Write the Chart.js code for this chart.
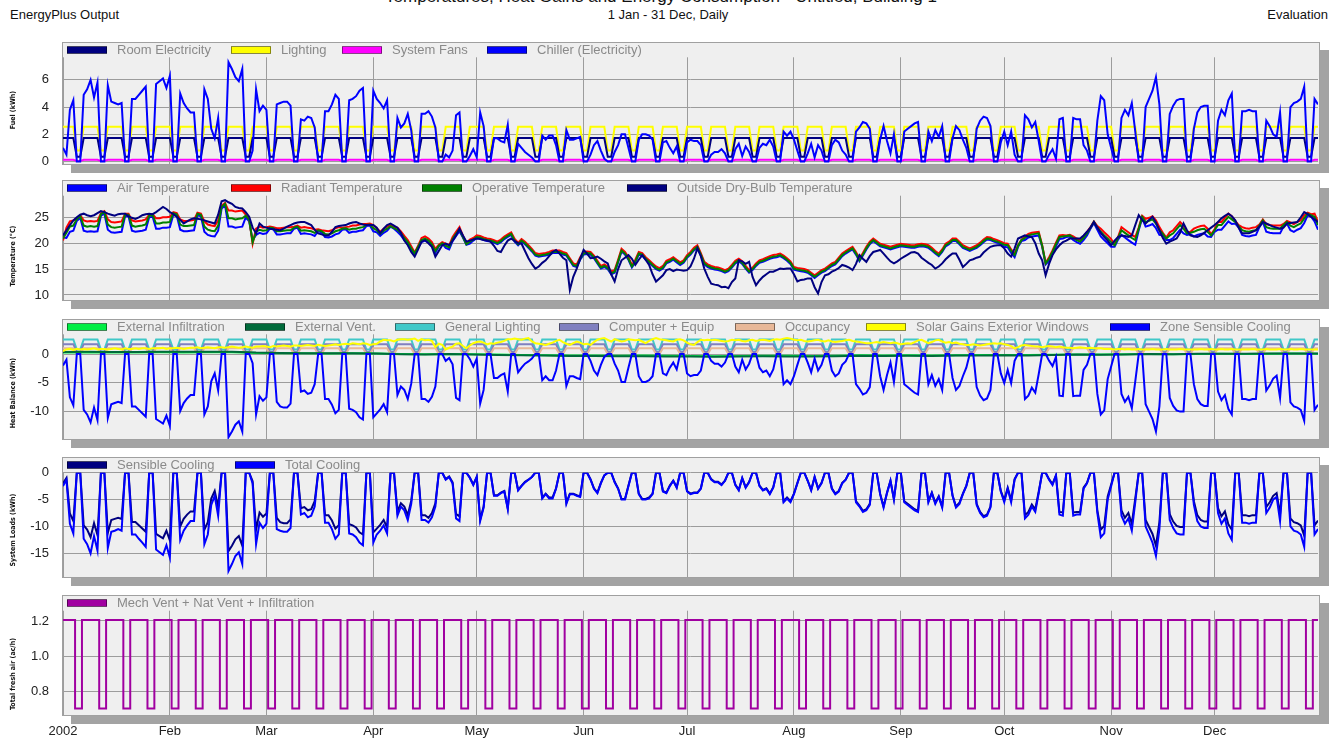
<!DOCTYPE html>
<html>
<head>
<meta charset="utf-8">
<script src="https://cdn.jsdelivr.net/npm/chart.js@4.4.0/dist/chart.umd.min.js"></script>
<style>
  body { margin: 0; width: 1344px; height: 740px; overflow: hidden; position: relative; background: #fff;
         font-family: Arial, "Liberation Sans", sans-serif; }
  canvas { position: absolute; left: 0; top: 0; }
  .hdr { position: absolute; font-size: 13px; line-height: 15px; color: #111; white-space: nowrap; }
</style>
</head>
<body>
<div class="hdr" style="left:0;width:1322px;top:-12px;text-align:center;font-size:17px;line-height:17px;">Temperatures, Heat Gains and Energy Consumption - Untitled, Building 1</div>
<div class="hdr" style="left:10px;top:7px;">EnergyPlus Output</div>
<div class="hdr" style="left:0;width:1336px;top:7px;text-align:center;">1 Jan - 31 Dec, Daily</div>
<div class="hdr" style="right:16px;top:7px;">Evaluation</div>
<script>
// ---- axis data ----
const monthStarts = [0, 31, 59, 90, 120, 151, 181, 212, 243, 273, 304, 334];
const monthLabels = ['2002', 'Feb', 'Mar', 'Apr', 'May', 'Jun', 'Jul', 'Aug', 'Sep', 'Oct', 'Nov', 'Dec'];
const fuelTicks = [0, 2, 4, 6];
const tempTicks = [10, 15, 20, 25];
const heatTicks = [0, -5, -10];
const loadTicks = [0, -5, -10, -15];
const airTicks = [0.8, 1.0, 1.2];

// 1 = working day, 0 = weekend (1 Jan 2002 is a Tuesday)
const workday =
  '1111001111100111110011111001' + '1111001111100111110011111001' + '1111001111100111110011111001' +
  '1111001111100111110011111001' + '1111001111100111110011111001' + '1111001111100111110011111001' +
  '1111001111100111110011111001' + '1111001111100111110011111001' + '1111001111100111110011111001' +
  '1111001111100111110011111001' + '1111001111100111110011111001' + '1111001111100111110011111001' +
  '1111001111100111110011111001' + '1';

// schedule levels (working day / weekend)
const roomElec = [1.72, 0.35];
const lighting = [2.55, 0.8];
const sysFans = [0.12, 0.04];
const genLighting = [2.55, 0.8];
const compEquip = [1.72, 0.35];
const occupancy = [1.0, 0.0];
const freshAir = [1.205, 0.705];

// daily values, one week (Tue..Mon) per group
const chiller = [
  1.0,0.5,3.8,4.5,0,0,4.9, 5.3,6.0,4.7,5.8,0,0,5.6, 4.4,4.3,4.2,4.3,0,0,4.6, 4.6,4.9,5.2,5.5,0,0,5.7,
  5.9,6.1,5.4,6.3,0,0,5.0, 4.3,3.9,3.6,3.6,0,0,5.3, 4.6,2.4,1.7,3.2,0,0,7.3, 6.8,6.2,5.9,6.8,0,0,0.8,
  5.3,3.7,4.1,3.8,0,0,4.2, 4.3,4.4,4.4,4.1,0,0,3.1, 3.0,3.3,3.2,2.5,0,0,3.7, 3.7,4.2,4.9,4.6,0,0,4.5,
  4.6,4.8,5.2,5.4,0,0,5.2, 4.6,4.3,3.9,4.5,0,0,3.2, 2.5,2.8,3.5,2.3,0,0,3.5, 3.5,3.7,3.3,2.5,0,0,0.5,
  0.3,0.8,3.4,3.6,0,0,0.4, 0.9,0.3,3.6,2.6,0,0,1.7, 1.7,1.5,1.4,2.7,0,0,1.3, 1.0,0.7,0.5,0.3,0,0,1.9,
  1.6,1.9,1.9,1.2,0,0,2.3, 1.6,1.6,1.7,1.8,0,0,0.5, 1.2,1.5,0.8,0.2,0,0,0.7, 1.2,2.0,2.0,1.0,0,0,1.6,
  2.0,2.0,1.9,1.6,0,0,1.4, 1.5,1.0,0.6,1.1,0,0,1.4, 1.6,1.5,1.5,1.2,0,0,0.5, 0.7,0.7,0.9,0.6,0,0,0.9,
  1.3,0.4,1.1,0.7,0,0,1.0, 1.3,1.2,1.6,1.1,0,0,2.2, 1.9,2.2,1.6,0.8,0,0,0.6, 1.3,0.3,1.2,0.8,0,0,1.2,
  1.6,1.4,0.8,0.5,0,0,2.2, 2.5,2.9,2.8,2.4,0,0,1.6, 2.6,1.5,0.6,2.0,0,0,2.2, 2.4,2.6,2.8,2.9,0,0,2.2,
  1.5,2.3,1.8,2.6,0,0,1.7, 2.6,2.3,1.6,1.0,0,0,2.4, 3.0,3.3,3.2,2.6,0,0,1.4, 2.2,1.2,2.2,0.5,0,0,3.4,
  3.1,2.5,2.9,1.5,0,0,0.5, 0.9,0.2,3.1,3.2,0,0,3.2, 3.1,3.1,1.2,0.8,0,0,3.0, 4.8,4.5,2.0,1.0,0,0,3.2,
  3.8,3.4,4.3,2.2,0,0,4.0, 4.6,5.2,6.2,4.2,0,0,3.5, 4.1,4.5,4.6,4.6,0,0,2.4, 3.6,4.0,4.1,4.1,0,0,3.0,
  3.8,3.4,4.5,5.0,0,0,3.7, 3.7,3.8,3.7,3.7,0,0,3.0, 2.6,2.0,1.8,3.6,0,0,4.0, 4.3,4.4,4.6,5.5,0,0,4.6,
  4.2
];

const airTemp = [
  21.1,21.0,22.2,22.4,24.3,24.9,22.4, 22.2,22.3,22.2,22.3,25.3,25.7,22.6, 22.1,22.0,22.1,22.2,25.2,25.2,22.4, 22.2,22.3,22.4,22.6,25.0,25.1,22.8,
  22.8,23.0,23.0,23.1,25.5,25.3,22.6, 22.3,22.3,22.4,22.5,25.4,25.2,22.2, 21.6,21.4,21.3,22.4,26.7,27.3,23.2, 23.2,23.0,23.1,23.2,25.0,24.2,20.6,
  21.6,22.0,21.8,21.9,22.8,22.7,21.7, 21.7,21.8,21.9,21.9,22.8,23.0,21.8, 21.9,21.8,21.7,21.4,22.3,22.1,21.2, 21.1,21.3,21.7,21.9,22.6,22.7,22.0,
  22.2,22.2,22.4,22.5,23.3,23.4,22.3, 22.1,21.4,22.0,22.4,23.2,22.8,22.2, 21.5,20.6,19.8,18.6,17.9,19.2,20.2, 20.5,20.1,19.4,18.1,19.4,19.9,19.1,
  18.8,20.4,21.4,22.3,21.1,19.7,19.9, 20.5,21.0,20.9,20.6,20.4,20.3,20.1, 19.8,20.2,20.8,21.2,21.6,20.3,19.6, 20.3,19.8,19.1,18.4,17.6,17.4,17.5,
  17.6,17.8,18.1,18.1,18.1,17.8,17.6, 16.6,15.6,15.4,16.8,17.8,17.9,17.8, 17.1,16.1,15.1,15.4,15.0,14.0,14.3, 16.3,18.4,17.8,16.8,15.3,16.3,17.8,
  17.6,16.8,16.2,15.6,15.0,14.7,15.1, 16.1,16.4,16.8,16.3,15.8,16.2,17.2, 17.8,18.6,19.1,17.6,15.9,15.4,15.1, 14.9,14.8,14.6,14.3,14.6,15.3,16.1,
  16.5,16.0,15.1,14.3,14.8,15.6,16.2, 16.4,16.7,17.0,17.2,17.3,17.5,17.1, 16.6,16.0,14.9,14.7,14.6,14.5,14.3, 13.8,13.3,13.8,14.3,14.6,15.1,15.6,
  15.9,16.7,17.5,18.0,18.4,18.8,17.8, 16.5,17.6,18.8,19.8,20.4,19.9,19.4, 19.2,19.0,18.8,19.0,19.2,19.4,19.3, 19.2,19.1,19.1,19.3,19.4,19.3,19.1,
  18.6,18.0,17.5,18.3,19.4,19.8,20.4, 20.4,19.8,19.1,18.8,18.5,18.8,19.1, 19.6,20.2,20.7,20.6,20.3,20.1,19.8, 19.3,19.2,18.1,17.3,19.3,20.4,20.6,
  21.1,21.3,21.4,21.5,19.3,15.9,16.6, 17.9,19.4,20.8,20.9,21.2,21.3,20.6, 20.2,19.9,20.6,21.5,22.8,23.9,22.6, 21.3,20.6,20.0,19.3,19.3,20.7,21.6,
  21.1,20.6,20.1,19.7,22.5,24.8,23.2, 23.4,23.7,22.9,21.6,21.5,20.6,20.6, 21.0,21.8,22.6,21.9,21.6,21.7,21.3, 21.6,21.8,21.9,21.3,21.2,22.2,22.6,
  22.6,23.4,24.2,23.7,23.8,23.0,21.6, 21.4,21.3,21.5,21.6,23.1,24.1,22.2, 22.0,21.9,21.9,21.9,23.2,23.8,22.5, 22.2,22.6,22.9,23.9,25.4,25.1,24.2,
  22.6
];

const radiantTemp = [
  20.5,23.0,24.2,24.4,24.8,25.4,24.4, 24.2,24.3,24.2,24.3,25.8,26.2,24.6, 24.1,24.0,24.1,24.2,25.7,25.7,24.4, 24.2,24.3,24.4,24.6,25.5,25.6,24.8,
  24.8,25.0,25.0,25.1,26.0,25.8,24.6, 24.3,24.3,24.4,24.5,25.9,25.7,24.2, 23.6,23.4,23.3,24.4,27.2,27.8,26.3, 26.3,26.1,26.2,26.3,25.5,24.7,19.9,
  22.8,23.2,23.0,23.1,23.2,23.1,22.9, 22.9,23.0,23.1,23.1,23.2,23.4,23.0, 23.1,23.0,22.9,22.6,22.7,22.5,22.4, 22.3,22.5,22.9,23.1,23.0,23.1,23.2,
  23.4,23.4,23.6,23.7,23.7,23.8,23.5, 22.9,22.2,22.8,23.2,23.5,23.1,23.0, 22.3,21.4,20.6,19.4,18.2,19.5,21.0, 21.3,20.9,20.2,18.9,19.7,20.2,19.9,
  19.6,21.2,22.2,23.1,21.4,20.0,20.7, 21.0,21.5,21.4,21.1,20.9,20.8,20.6, 20.3,20.7,21.3,21.7,22.1,20.8,20.1, 20.8,20.3,19.6,18.9,18.1,17.9,18.0,
  18.1,18.3,18.6,18.6,18.6,18.3,18.1, 17.1,16.1,15.9,17.3,18.3,18.4,18.3, 17.6,16.6,15.6,15.9,15.5,14.5,14.8, 16.8,18.9,18.3,17.3,15.8,16.8,18.3,
  18.1,17.3,16.7,16.1,15.5,15.2,15.6, 16.6,16.9,17.3,16.8,16.3,16.7,17.7, 18.3,19.1,19.6,18.1,16.4,15.9,15.6, 15.4,15.3,15.1,14.8,15.1,15.8,16.6,
  17.0,16.5,15.6,14.8,15.3,16.1,16.7, 16.9,17.2,17.5,17.7,17.8,18.0,17.6, 17.1,16.5,15.4,15.2,15.1,15.0,14.8, 14.3,13.8,14.3,14.8,15.1,15.6,16.1,
  16.4,17.2,18.0,18.5,18.9,19.3,18.3, 17.0,18.1,19.3,20.3,20.9,20.4,19.9, 19.7,19.5,19.3,19.5,19.7,19.9,19.8, 19.7,19.6,19.6,19.8,19.9,19.8,19.6,
  19.1,18.5,18.0,18.8,19.9,20.3,20.9, 20.9,20.3,19.6,19.3,19.0,19.3,19.6, 20.1,20.7,21.2,21.1,20.8,20.6,20.3, 20.0,19.9,18.8,18.0,19.6,20.7,21.3,
  21.8,22.0,22.1,22.2,19.6,16.2,17.3, 18.6,20.1,21.5,21.6,21.5,21.6,21.3, 20.9,20.6,21.3,22.2,23.1,24.2,23.3, 22.8,22.1,21.5,20.8,19.8,21.2,23.1,
  22.6,22.1,21.6,21.2,23.0,25.3,24.7, 24.9,25.2,24.4,23.1,22.0,21.1,22.1, 22.5,23.3,24.1,23.4,22.1,22.2,22.8, 23.1,23.3,23.4,22.8,21.7,22.7,24.1,
  24.1,24.9,25.7,25.2,24.3,23.5,23.1, 22.9,22.8,23.0,23.1,23.6,24.6,23.7, 23.5,23.4,23.4,23.4,23.7,24.3,24.0, 23.7,24.1,24.4,25.4,25.9,25.6,25.7,
  24.1
];

const operativeTemp = [
  20.9,22.0,23.2,23.4,24.6,25.2,23.4, 23.2,23.3,23.2,23.3,25.6,26.0,23.6, 23.1,23.0,23.1,23.2,25.5,25.5,23.4, 23.2,23.3,23.4,23.6,25.3,25.4,23.8,
  23.8,24.0,24.0,24.1,25.8,25.6,23.6, 23.3,23.3,23.4,23.5,25.7,25.5,23.2, 22.6,22.4,22.3,23.4,27.0,27.6,24.8, 24.8,24.6,24.7,24.8,25.3,24.5,20.2,
  22.2,22.6,22.4,22.5,23.0,22.9,22.3, 22.3,22.4,22.5,22.5,23.0,23.2,22.4, 22.5,22.4,22.3,22.0,22.5,22.3,21.8, 21.7,21.9,22.3,22.5,22.8,22.9,22.6,
  22.8,22.8,23.0,23.1,23.5,23.6,22.9, 22.5,21.8,22.4,22.8,23.3,22.9,22.6, 21.9,21.0,20.2,19.0,18.0,19.3,20.6, 20.9,20.5,19.8,18.5,19.5,20.0,19.5,
  19.2,20.8,21.8,22.7,21.2,19.8,20.3, 20.7,21.2,21.1,20.8,20.6,20.5,20.3, 20.0,20.4,21.0,21.4,21.8,20.5,19.8, 20.5,20.0,19.3,18.6,17.8,17.6,17.7,
  17.8,18.0,18.3,18.3,18.3,18.0,17.8, 16.8,15.8,15.6,17.0,18.0,18.1,18.0, 17.3,16.3,15.3,15.6,15.2,14.2,14.5, 16.5,18.6,18.0,17.0,15.5,16.5,18.0,
  17.8,17.0,16.4,15.8,15.2,14.9,15.3, 16.3,16.6,17.0,16.5,16.0,16.4,17.4, 18.0,18.8,19.3,17.8,16.1,15.6,15.3, 15.1,15.0,14.8,14.5,14.8,15.5,16.3,
  16.7,16.2,15.3,14.5,15.0,15.8,16.4, 16.6,16.9,17.2,17.4,17.5,17.7,17.3, 16.8,16.2,15.1,14.9,14.8,14.7,14.5, 14.0,13.5,14.0,14.5,14.8,15.3,15.8,
  16.1,16.9,17.7,18.2,18.6,19.0,18.0, 16.7,17.8,19.0,20.0,20.6,20.1,19.6, 19.4,19.2,19.0,19.2,19.4,19.6,19.5, 19.4,19.3,19.3,19.5,19.6,19.5,19.3,
  18.8,18.2,17.7,18.5,19.6,20.0,20.6, 20.6,20.0,19.3,19.0,18.7,19.0,19.3, 19.8,20.4,20.9,20.8,20.5,20.3,20.0, 19.7,19.6,18.5,17.7,19.5,20.6,21.0,
  21.5,21.7,21.8,21.9,19.5,16.1,17.0, 18.3,19.8,21.2,21.3,21.4,21.5,21.0, 20.6,20.3,21.0,21.9,23.0,24.1,23.0, 22.2,21.5,20.9,20.2,19.6,21.0,22.5,
  22.0,21.5,21.0,20.6,22.8,25.1,24.1, 24.3,24.6,23.8,22.5,21.8,20.9,21.5, 21.9,22.7,23.5,22.8,21.9,22.0,22.2, 22.5,22.7,22.8,22.2,21.5,22.5,23.5,
  23.5,24.3,25.1,24.6,24.1,23.3,22.5, 22.3,22.2,22.4,22.5,23.4,24.4,23.1, 22.9,22.8,22.8,22.8,23.5,24.1,23.4, 23.1,23.5,23.8,24.8,25.7,25.4,25.1,
  23.5
];

const outsideTemp = [
  21.5,22.5,23.5,24.4,25.0,25.5,25.7, 25.4,25.2,25.4,25.8,26.2,26.0,25.7, 25.5,25.3,25.6,25.7,25.7,25.2,24.9, 24.7,25.0,25.4,25.6,25.7,25.6,26.0,
  26.5,27.0,26.6,26.0,25.6,25.1,24.5, 23.8,24.2,24.6,24.8,24.7,24.6,24.4, 24.2,24.0,23.8,25.5,28.1,28.3,27.9, 27.6,27.0,26.8,26.7,26.0,25.1,23.0,
  21.9,23.8,23.2,23.0,22.8,22.7,22.6, 22.5,22.8,23.2,23.5,23.8,24.0,24.1, 24.1,23.8,23.5,22.6,21.9,21.7,21.5, 21.5,22.2,23.1,23.3,23.4,23.5,23.8,
  24.0,24.1,23.8,23.6,23.5,23.5,23.5, 23.0,21.9,22.8,23.5,23.8,23.4,23.0, 22.0,20.5,19.6,18.3,17.4,18.8,20.3, 20.6,20.0,19.3,17.4,18.5,19.6,19.9,
  19.6,20.5,21.5,22.8,21.5,20.3,20.5, 20.7,20.9,20.8,20.6,20.5,20.3,19.5, 18.5,18.3,19.5,20.5,20.9,20.4,20.0, 19.9,18.5,17.1,16.0,15.1,15.5,16.2,
  16.7,17.5,18.3,18.7,18.0,17.2,16.7, 11.0,13.5,15.1,17.0,18.7,18.0,17.1, 17.2,17.4,17.0,16.5,16.1,14.0,12.6, 15.0,16.7,17.2,17.7,17.0,15.8,16.8,
  17.7,16.8,15.8,14.0,12.6,13.2,13.8, 14.8,15.0,14.6,14.9,14.8,14.7,14.8, 15.5,17.0,19.0,17.5,15.1,13.5,12.2, 12.0,11.9,11.5,11.6,11.3,12.5,13.2,
  16.7,16.5,16.0,16.4,13.5,11.9,12.8, 13.5,14.0,14.5,14.5,14.8,15.1,15.0, 15.1,15.1,14.0,12.6,12.9,13.0,13.2, 13.2,11.5,10.3,12.5,13.8,14.0,14.5,
  14.8,15.2,15.8,15.6,15.3,14.8,16.0, 17.7,17.0,16.4,17.5,18.3,18.5,18.7, 18.0,17.2,16.5,16.1,16.5,17.0,17.4, 17.8,18.2,18.3,18.0,17.2,16.7,16.2,
  15.8,15.1,15.5,16.1,16.9,17.5,18.0, 18.0,16.8,15.4,16.0,16.7,16.9,17.2, 17.4,18.2,18.8,19.3,19.5,19.6,19.6, 19.0,18.0,17.4,19.0,20.9,21.2,21.5,
  21.3,21.2,20.0,18.0,16.7,13.8,16.0, 17.7,18.8,19.6,20.2,20.5,20.9,20.9, 20.9,20.9,21.5,22.2,23.0,24.1,23.0, 22.0,21.2,20.5,19.6,20.5,21.2,21.5,
  21.4,21.2,21.5,23.5,25.4,24.5,23.8, 24.5,25.1,24.0,22.5,21.0,19.9,20.3, 20.6,20.9,22.0,23.8,22.5,21.5,21.3, 21.2,21.5,22.0,22.5,23.0,23.5,24.1,
  24.8,25.3,25.7,25.2,24.4,23.0,21.9, 21.9,21.9,22.2,22.5,23.2,24.1,23.8, 23.5,23.2,23.0,22.8,23.0,23.8,23.9, 24.0,24.1,25.0,26.0,25.6,25.1,24.6,
  24.1
];

const solarGains = [
  0.5,0.8,0.9,0.7,0.9,0.8,0.9, 0.8,0.9,1.0,0.8,0.9,0.9,0.8, 0.9,1.0,0.9,0.8,1.0,0.9,0.9, 1.0,0.9,1.0,1.0,0.9,1.0,1.0,
  1.0,1.1,0.9,1.0,1.0,1.1,1.0, 0.9,1.0,1.1,1.1,1.2,1.0,1.1, 1.2,1.1,1.0,1.2,1.2,1.1,1.2, 1.3,1.2,1.1,1.2,1.3,1.2,1.1,
  1.3,1.3,1.4,1.3,1.2,1.4,1.3, 1.4,1.5,1.4,1.3,1.5,1.5,1.4, 1.5,1.6,1.5,1.4,1.6,1.5,1.4, 1.5,1.6,1.7,1.6,1.7,1.8,1.7,
  1.9,1.8,1.7,1.9,1.8,1.6,1.7, 1.8,2.2,2.5,2.4,2.4,2.2,2.5, 2.6,2.6,2.5,2.6,2.7,2.3,2.6, 2.4,2.5,2.3,1.2,1.8,1.6,0.8,
  1.1,1.3,1.8,1.9,1.4,1.0,1.5, 1.9,2.1,2.2,2.0,1.7,1.9,1.8, 2.0,2.1,2.3,2.6,2.6,2.7,2.6, 2.5,2.7,2.8,2.2,1.9,1.8,1.7,
  1.6,1.8,2.0,2.3,2.5,2.1,1.8, 1.6,1.9,2.2,2.0,1.7,1.8,1.6, 2.1,2.5,2.7,2.8,2.5,2.2,2.6, 2.4,2.2,2.3,2.6,2.5,2.4,2.5,
  2.2,1.9,2.3,2.6,2.8,2.6,2.5, 2.4,2.3,2.2,2.5,2.6,2.4,2.0, 1.7,1.6,2.1,2.5,2.4,2.5,2.4, 2.5,2.4,2.3,2.2,2.3,2.5,2.4,
  2.5,2.3,2.2,2.4,2.5,2.3,2.4, 2.5,2.4,2.3,2.5,2.6,2.5,2.7, 2.8,2.7,2.5,2.4,2.5,2.3,2.2, 2.3,2.4,2.5,2.3,2.2,2.4,2.2,
  2.1,2.2,2.3,2.4,2.5,2.3,2.2, 2.1,2.0,1.9,1.9,2.0,2.1,2.0, 2.1,2.0,1.9,2.0,1.9,1.7,1.8, 1.9,1.8,2.1,2.4,2.5,2.2,1.9,
  2.1,2.4,2.5,2.2,2.0,2.1,1.9, 2.0,1.8,1.7,1.6,1.6,1.7,1.6, 1.5,1.6,1.7,1.8,1.9,1.8,1.9, 1.7,1.6,1.4,1.0,1.2,1.5,1.6,
  1.5,1.4,1.3,1.3,1.2,1.3,1.4, 1.3,1.2,1.3,1.2,1.1,1.1,1.0, 1.1,1.2,1.1,1.0,1.1,1.0,1.0, 1.0,0.9,0.9,0.9,0.8,0.9,0.9,
  0.8,0.9,0.8,0.8,0.9,0.8,0.8, 0.8,0.9,0.8,0.8,0.8,0.9,0.8, 0.8,0.8,0.9,0.8,0.8,0.8,0.8, 0.8,0.9,0.8,0.8,0.9,0.8,0.8,
  0.9,0.8,0.8,0.9,0.8,0.8,0.8, 0.8,0.8,0.9,0.8,0.8,0.8,0.9, 0.8,0.8,0.8,0.9,0.8,0.8,0.9, 0.8,0.8,0.9,0.8,0.8,0.8,0.8,
  0.8
];

const sensibleCooling = [
  -2.0,-1.0,-7.6,-9.0,0,0,-9.8, -10.6,-12.0,-9.4,-11.6,0,0,-11.2, -8.8,-8.6,-8.4,-8.6,0,0,-9.2, -9.2,-9.8,-10.4,-11.0,0,0,-11.4,
  -11.8,-12.2,-10.8,-12.6,0,0,-10.0, -8.6,-7.8,-7.2,-7.2,0,0,-10.6, -9.2,-4.8,-3.4,-6.4,0,0,-14.6, -13.6,-12.4,-11.8,-13.6,0,0,-1.6,
  -10.6,-7.4,-8.2,-7.6,0,0,-8.4, -9.2,-9.4,-9.4,-8.7,0,0,-6.6, -6.4,-7.0,-6.8,-5.3,0,0,-7.9, -7.9,-8.9,-10.4,-9.8,0,0,-9.6,
  -9.8,-10.2,-11.1,-11.5,0,0,-11.1, -10.4,-9.7,-8.8,-10.2,0,0,-7.2, -5.7,-6.3,-7.9,-5.2,0,0,-7.9, -7.9,-8.4,-7.5,-5.7,0,0,-1.2,
  -0.7,-1.8,-7.7,-8.1,0,0,-0.9, -2.2,-0.8,-8.7,-6.3,0,0,-4.2, -4.2,-3.7,-3.4,-6.6,0,0,-3.2, -2.4,-1.7,-1.3,-0.8,0,0,-4.6,
  -3.9,-4.6,-4.6,-2.9,0,0,-5.6, -3.9,-3.9,-4.2,-4.4,0,0,-1.2, -2.9,-3.7,-1.9,-0.5,0,0,-1.7, -2.9,-4.9,-4.9,-2.4,0,0,-3.9,
  -4.9,-4.9,-4.6,-3.9,0,0,-3.4, -3.7,-2.4,-1.5,-2.7,0,0,-3.4, -3.9,-3.7,-3.7,-2.9,0,0,-1.2, -1.7,-1.7,-2.2,-1.5,0,0,-2.2,
  -3.2,-1.0,-2.7,-1.7,0,0,-2.4, -3.2,-2.9,-3.9,-2.7,0,0,-5.3, -4.6,-5.3,-3.9,-1.9,0,0,-1.5, -3.2,-0.8,-2.9,-1.9,0,0,-2.9,
  -3.9,-3.4,-1.9,-1.3,0,0,-5.3, -6.1,-7.1,-6.8,-5.8,0,0,-3.9, -6.3,-3.7,-1.5,-4.9,0,0,-5.3, -5.8,-6.3,-6.8,-7.1,0,0,-5.3,
  -3.7,-5.6,-4.4,-6.3,0,0,-4.2, -6.3,-5.6,-3.9,-2.4,0,0,-5.8, -7.3,-8.1,-7.8,-6.3,0,0,-3.4, -5.1,-2.8,-5.1,-1.2,0,0,-7.9,
  -7.3,-5.9,-6.8,-3.5,0,0,-1.2, -2.1,-0.5,-7.3,-7.4,0,0,-7.4, -7.3,-7.3,-2.8,-1.9,0,0,-7.0, -10.6,-9.9,-4.4,-2.2,0,0,-7.0,
  -8.4,-7.5,-9.5,-4.8,0,0,-8.8, -10.1,-11.4,-13.6,-9.2,0,0,-7.7, -9.1,-9.9,-10.1,-10.1,0,0,-5.3, -7.9,-8.8,-9.1,-9.1,0,0,-6.6,
  -8.1,-7.2,-9.6,-10.6,0,0,-7.9, -7.9,-8.1,-7.9,-7.9,0,0,-6.4, -5.5,-4.3,-3.8,-7.7,0,0,-8.5, -9.2,-9.4,-9.8,-11.7,0,0,-9.8,
  -8.9
];

const totalCooling = [
  -2.5,-1.3,-9.5,-11.3,0,0,-12.3, -13.3,-15.0,-11.8,-14.5,0,0,-14.0, -11.0,-10.8,-10.5,-10.8,0,0,-11.5, -11.5,-12.3,-13.0,-13.8,0,0,-14.3,
  -14.8,-15.3,-13.5,-15.8,0,0,-12.5, -10.8,-9.8,-9.0,-9.0,0,0,-13.3, -11.5,-6.0,-4.3,-8.0,0,0,-18.3, -17.0,-15.5,-14.8,-17.0,0,0,-2.0,
  -13.3,-9.3,-10.3,-9.5,0,0,-10.5, -10.8,-11.0,-11.0,-10.3,0,0,-7.8, -7.5,-8.3,-8.0,-6.3,0,0,-9.3, -9.3,-10.5,-12.3,-11.5,0,0,-11.3,
  -11.5,-12.0,-13.0,-13.5,0,0,-13.0, -11.5,-10.8,-9.8,-11.3,0,0,-8.0, -6.3,-7.0,-8.8,-5.8,0,0,-8.8, -8.8,-9.3,-8.3,-6.3,0,0,-1.3,
  -0.8,-2.0,-8.5,-9.0,0,0,-1.0, -2.3,-0.8,-9.0,-6.5,0,0,-4.3, -4.3,-3.8,-3.5,-6.8,0,0,-3.3, -2.5,-1.8,-1.3,-0.8,0,0,-4.8,
  -4.0,-4.8,-4.8,-3.0,0,0,-5.8, -4.0,-4.0,-4.3,-4.5,0,0,-1.3, -3.0,-3.8,-2.0,-0.5,0,0,-1.8, -3.0,-5.0,-5.0,-2.5,0,0,-4.0,
  -5.0,-5.0,-4.8,-4.0,0,0,-3.5, -3.8,-2.5,-1.5,-2.8,0,0,-3.5, -4.0,-3.8,-3.8,-3.0,0,0,-1.3, -1.8,-1.8,-2.3,-1.5,0,0,-2.3,
  -3.3,-1.0,-2.8,-1.8,0,0,-2.5, -3.3,-3.0,-4.0,-2.8,0,0,-5.5, -4.8,-5.5,-4.0,-2.0,0,0,-1.5, -3.3,-0.8,-3.0,-2.0,0,0,-3.0,
  -4.0,-3.5,-2.0,-1.3,0,0,-5.5, -6.3,-7.3,-7.0,-6.0,0,0,-4.0, -6.5,-3.8,-1.5,-5.0,0,0,-5.5, -6.0,-6.5,-7.0,-7.3,0,0,-5.5,
  -3.8,-5.8,-4.5,-6.5,0,0,-4.3, -6.5,-5.8,-4.0,-2.5,0,0,-6.0, -7.5,-8.3,-8.0,-6.5,0,0,-3.5, -5.5,-3.0,-5.5,-1.3,0,0,-8.5,
  -7.8,-6.3,-7.3,-3.8,0,0,-1.3, -2.3,-0.5,-7.8,-8.0,0,0,-8.0, -7.8,-7.8,-3.0,-2.0,0,0,-7.5, -12.0,-11.3,-5.0,-2.5,0,0,-8.0,
  -9.5,-8.5,-10.8,-5.5,0,0,-10.0, -11.5,-13.0,-15.5,-10.5,0,0,-8.8, -10.3,-11.3,-11.5,-11.5,0,0,-6.0, -9.0,-10.0,-10.3,-10.3,0,0,-7.5,
  -9.5,-8.5,-11.3,-12.5,0,0,-9.3, -9.3,-9.5,-9.3,-9.3,0,0,-7.5, -6.5,-5.0,-4.5,-9.0,0,0,-10.0, -10.8,-11.0,-11.5,-13.8,0,0,-11.5,
  -10.5
];

// weekly values (one per week, from 1 Jan)
const extInfiltration = [
  0.25,0.28,0.27,0.26,0.30, 0.28,0.30,0.32,0.20, 0.15,0.12,0.10,0.12, 0.08,0.0,-0.05,0.02,
  -0.05,-0.1,-0.15,-0.2,-0.25, -0.25,-0.3,-0.28,-0.32, -0.35,-0.38,-0.33,-0.3,-0.32, -0.35,-0.3,-0.22,-0.25,
  -0.22,-0.25,-0.2,-0.18, -0.15,-0.18,-0.12,-0.08,-0.1, -0.05,0.0,-0.02,0.02, 0.05,0.02,0.05,0.08,0.06
];
const extVent = [
  0.35,0.38,0.36,0.37,0.40, 0.38,0.40,0.42,0.25, 0.20,0.15,0.12,0.15, 0.10,-0.02,-0.08,0.0,
  -0.08,-0.15,-0.2,-0.28,-0.35, -0.35,-0.4,-0.38,-0.42, -0.45,-0.5,-0.43,-0.4,-0.42, -0.45,-0.4,-0.3,-0.33,
  -0.3,-0.33,-0.28,-0.25, -0.2,-0.25,-0.17,-0.1,-0.14, -0.08,0.0,-0.03,0.03, 0.06,0.03,0.07,0.1,0.08
];

// ---- helpers ----
const daily = arr => arr.map((y, i) => ({ x: i, y }));
const weekly = arr => arr.map((y, k) => ({ x: k * 7, y }));
const sched = ([on, off]) => [...workday].map((c, i) => ({ x: i, y: c === '1' ? on : off }));

Chart.defaults.font.family = 'Arial, "Liberation Sans", sans-serif';

const panels = [
  {
    boxTop: 42, plotTop: 57.3, plotBottom: 163.5, min: -0.15, max: 7.66, ticks: fuelTicks,
    title: 'Fuel (kWh)', titleY: 110,
    legendX: [67, 231, 342, 487],
    series: [
      { label: 'Room Electricity', color: '#000080', data: sched(roomElec), order: 1 },
      { label: 'Lighting', color: '#ffff00', data: sched(lighting), order: 3 },
      { label: 'System Fans', color: '#ff00ff', data: sched(sysFans), order: 2 },
      { label: 'Chiller (Electricity)', color: '#0000ff', data: daily(chiller), order: 0 },
    ],
  },
  {
    boxTop: 180, plotTop: 195.7, plotBottom: 300, min: 9.03, max: 29.17, ticks: tempTicks,
    title: 'Temperature (°C)', titleY: 256,
    legendX: [67, 231, 422, 627],
    series: [
      { label: 'Air Temperature', color: '#0000ff', data: daily(airTemp), order: 3 },
      { label: 'Radiant Temperature', color: '#ff0000', data: daily(radiantTemp), order: 2 },
      { label: 'Operative Temperature', color: '#008000', data: daily(operativeTemp), order: 1 },
      { label: 'Outside Dry-Bulb Temperature', color: '#000080', data: daily(outsideTemp), order: 0 },
    ],
  },
  {
    boxTop: 319, plotTop: 334.3, plotBottom: 439, min: -14.91, max: 3.46, ticks: heatTicks,
    title: 'Heat Balance (kWh)', titleY: 393,
    legendX: [67, 245, 395, 559, 735, 866, 1110],
    series: [
      { label: 'External Infiltration', color: '#00ee44', data: weekly(extInfiltration), order: 3 },
      { label: 'External Vent.', color: '#006a3a', data: weekly(extVent), order: 2 },
      { label: 'General Lighting', color: '#40c8c8', data: sched(genLighting), order: 6 },
      { label: 'Computer + Equip', color: '#8080c0', data: sched(compEquip), order: 5 },
      { label: 'Occupancy', color: '#e8b898', data: sched(occupancy), order: 4 },
      { label: 'Solar Gains Exterior Windows', color: '#ffff00', data: daily(solarGains), order: 1 },
      { label: 'Zone Sensible Cooling', color: '#0000ff', data: daily(sensibleCooling), order: 0 },
    ],
  },
  {
    boxTop: 457, plotTop: 472.7, plotBottom: 576.7, min: -19.36, max: 0, ticks: loadTicks,
    title: 'System Loads (kWh)', titleY: 530,
    legendX: [67, 235],
    series: [
      { label: 'Sensible Cooling', color: '#000080', data: daily(sensibleCooling), order: 1 },
      { label: 'Total Cooling', color: '#0000ff', data: daily(totalCooling), order: 0 },
    ],
  },
  {
    boxTop: 595, plotTop: 610.7, plotBottom: 715, min: 0.668, max: 1.258, ticks: airTicks,
    title: 'Total fresh air (ac/h)', titleY: 674, decimals: 1,
    legendX: [67],
    series: [
      { label: 'Mech Vent + Nat Vent + Infiltration', color: '#a000a0', data: sched(freshAir), order: 0, stepped: 'middle' },
    ],
  },
];

const panelFrame = {
  id: 'panelFrame',
  beforeDraw(chart, args, opts) {
    const p = opts.panel;
    const a = chart.chartArea;
    const ctx = chart.ctx;
    const left = Math.round(a.left) - 1, right = Math.round(a.right) + 2;
    const top = p.boxTop, bottom = Math.round(a.bottom) + 1;
    ctx.save();
    // drop shadow
    ctx.fillStyle = '#a3a3a3';
    ctx.fillRect(left + 9, top + 8, right - left, bottom - top);
    // panel box
    ctx.fillStyle = '#efefef';
    ctx.fillRect(left, top, right - left, bottom - top);
    ctx.strokeStyle = '#a0a0a0';
    ctx.lineWidth = 1;
    ctx.strokeRect(left + 0.5, top + 0.5, right - left - 1, bottom - top - 1);
    // legend
    const ly = top + 8;
    ctx.font = '13px Arial, "Liberation Sans", sans-serif';
    ctx.textBaseline = 'middle';
    p.series.forEach((s, i) => {
      const x = p.legendX[i];
      ctx.fillStyle = s.color;
      ctx.fillRect(x, ly - 3.5, 40, 7);
      ctx.strokeStyle = 'rgba(0,0,0,0.45)';
      ctx.strokeRect(x + 0.5, ly - 3.5, 39, 7);
      ctx.fillStyle = '#8a8a8a';
      ctx.fillText(s.label, x + 50, ly + 0.5);
    });
    // axis title
    ctx.translate(13, p.titleY);
    ctx.rotate(-Math.PI / 2);
    ctx.font = 'bold 7px "Liberation Sans Narrow", "DejaVu Sans Condensed", Arial, sans-serif';
    ctx.textAlign = 'center';
    ctx.fillStyle = '#111';
    ctx.fillText(p.title, 0, 0);
    ctx.restore();
  },
};

panels.forEach((p, idx) => {
  const isLast = idx === panels.length - 1;
  const canvas = document.createElement('canvas');
  canvas.width = 1344;
  canvas.height = 740;
  document.body.appendChild(canvas);

  new Chart(canvas, {
    type: 'line',
    data: {
      datasets: p.series.map(s => ({
        label: s.label,
        data: s.data,
        borderColor: s.color,
        backgroundColor: s.color,
        borderWidth: 2,
        pointRadius: 0,
        tension: 0,
        stepped: s.stepped || false,
        order: s.order,
      })),
    },
    options: {
      responsive: false,
      animation: false,
      devicePixelRatio: 1,
      layout: { padding: { top: p.plotTop, bottom: isLast ? 0 : 740 - p.plotBottom, left: 0, right: 26 } },
      plugins: {
        legend: { display: false },
        tooltip: { enabled: false },
        panelFrame: { panel: p },
      },
      scales: {
        x: {
          type: 'linear',
          min: 0,
          max: 364,
          afterBuildTicks: s => { s.ticks = monthStarts.map(v => ({ value: v })); },
          afterFit: s => { s.height = isLast ? 740 - p.plotBottom : 0; },
          ticks: {
            display: isLast,
            padding: 9,
            color: '#222',
            font: { size: 13 },
            maxRotation: 0,
            autoSkip: false,
            callback: (v, i) => monthLabels[i],
          },
          grid: { color: '#9c9c9c', lineWidth: 1, drawTicks: false },
          border: { display: false },
        },
        y: {
          min: p.min,
          max: p.max,
          afterBuildTicks: s => { s.ticks = p.ticks.map(v => ({ value: v })); },
          afterFit: s => { s.width = 63; },
          ticks: {
            padding: 14,
            color: '#222',
            font: { size: 13 },
            callback: v => (p.decimals ? v.toFixed(p.decimals) : String(v)),
          },
          grid: { color: '#9c9c9c', lineWidth: 1, drawTicks: false },
          border: { display: false },
        },
      },
    },
    plugins: [panelFrame],
  });
});
</script>
</body>
</html>
